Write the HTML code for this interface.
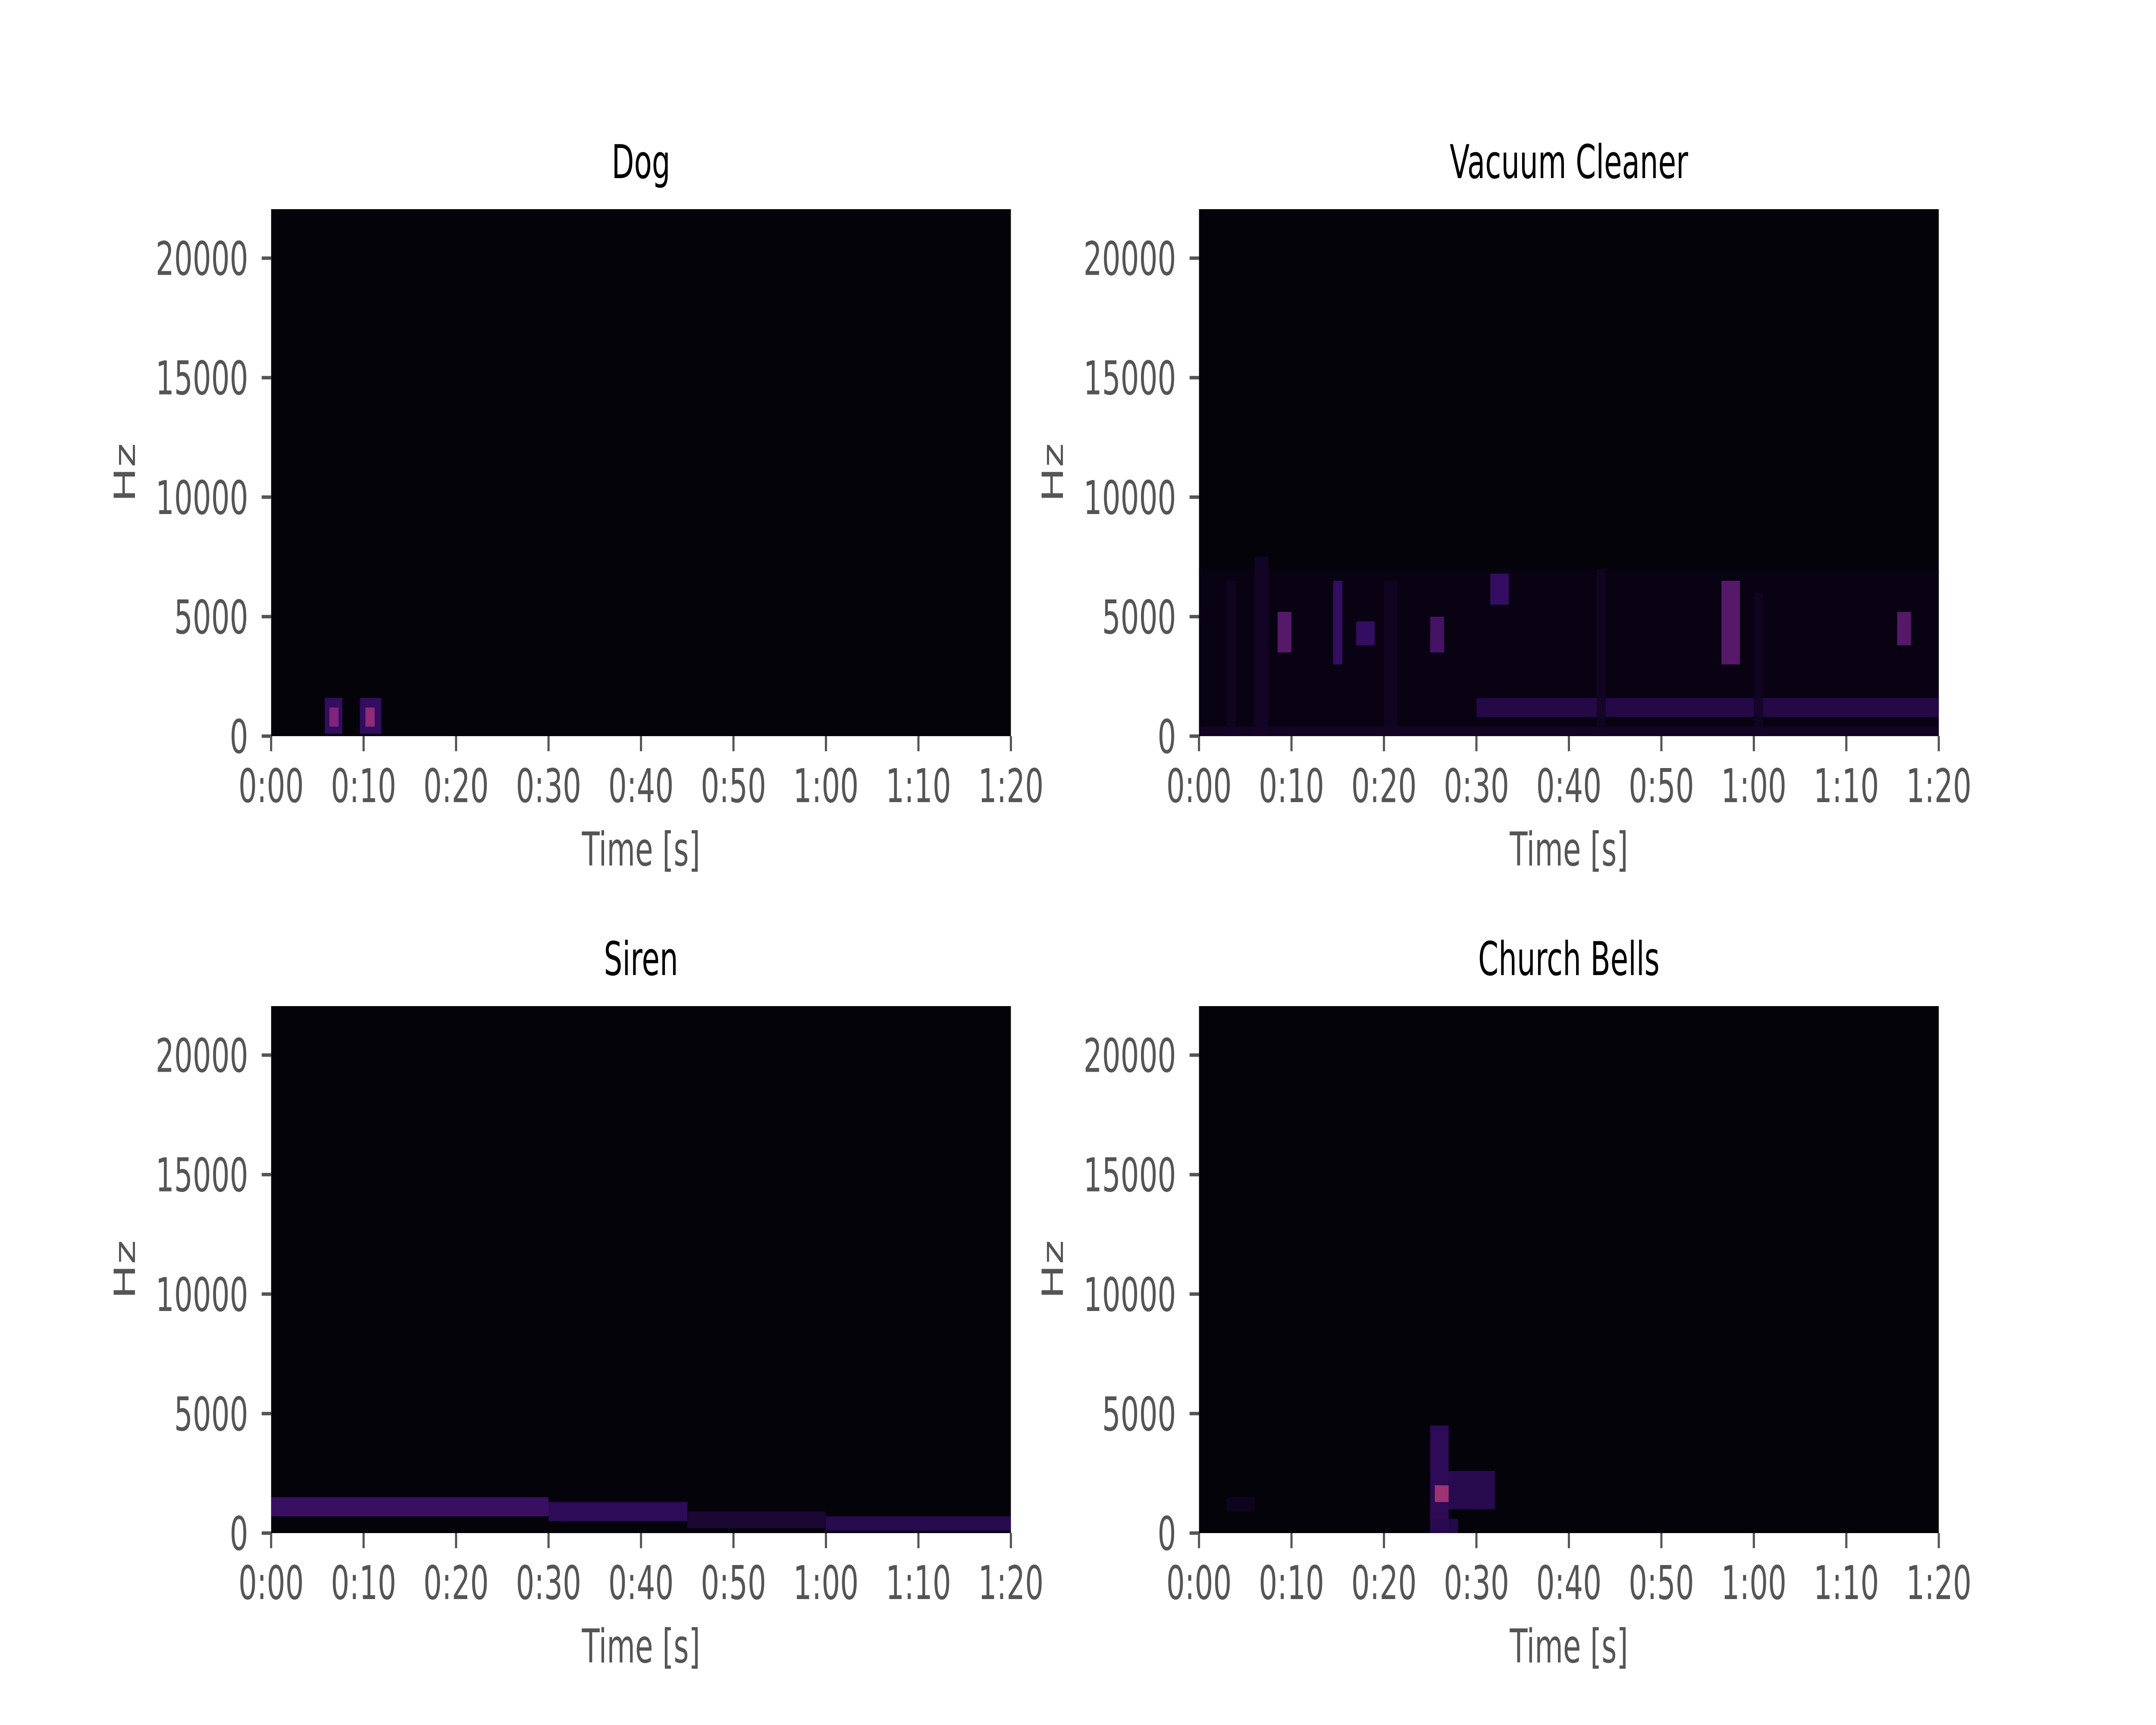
<!DOCTYPE html>
<html><head><meta charset="utf-8"><style>
html,body{margin:0;padding:0;background:#fff;width:100%;height:100%;overflow:hidden;}
svg{display:block;width:100vw;height:100vh;font-family:"DejaVu Sans","Liberation Sans",sans-serif;}
</style></head><body>
<svg id="fig" xmlns="http://www.w3.org/2000/svg" viewBox="0 0 8000 4000" preserveAspectRatio="none">
<rect width="8000" height="4000" fill="#ffffff"/>
</svg>
<script>
const panelTitles = ["Dog", "Vacuum Cleaner", "Siren", "Church Bells"];
const xTickValues = [0, 10, 20, 30, 40, 50, 60, 70, 80];
const xTickLabels = ["0:00","0:10","0:20","0:30","0:40","0:50","1:00","1:10","1:20"];
const yTickValues = [0, 5000, 10000, 15000, 20000];
const yTickLabels = ["0","5000","10000","15000","20000"];
const timeMax = 80;
const freqMax = 22050;

// blobs: start time, end time, low freq, high freq, intensity (0..1)
const dogT0 = [5.8, 6.3, 9.6, 10.2];
const dogT1 = [7.7, 7.3, 11.9, 11.2];
const dogF0 = [100, 400, 100, 400];
const dogF1 = [1600, 1200, 1600, 1200];
const dogLvl = [0.2, 0.4, 0.2, 0.45];

const vacT0 = [0, 0, 8.5, 14.5, 17, 25, 31.5, 56.5, 75.5, 30, 3, 6, 20, 43, 60];
const vacT1 = [80, 80, 10, 15.5, 19, 26.5, 33.5, 58.5, 77, 80, 4, 7.5, 21.5, 44, 61];
const vacF0 = [0, 0, 3500, 3000, 3800, 3500, 5500, 3000, 3800, 800, 0, 0, 0, 0, 0];
const vacF1 = [7000, 400, 5200, 6500, 4800, 5000, 6800, 6500, 5200, 1600, 6500, 7500, 6500, 7000, 6000];
const vacLvl = [0.03, 0.07, 0.3, 0.2, 0.2, 0.25, 0.2, 0.3, 0.3, 0.14, 0.06, 0.07, 0.06, 0.06, 0.06];

const sirT0 = [0, 30, 45, 60];
const sirT1 = [30, 45, 60, 80];
const sirF0 = [700, 500, 200, 100];
const sirF1 = [1500, 1300, 900, 700];
const sirLvl = [0.22, 0.18, 0.1, 0.16];

const chT0 = [25, 25.5, 27, 3, 25];
const chT1 = [27, 27, 32, 6, 28];
const chF0 = [100, 1300, 1000, 900, 0];
const chF1 = [4500, 2000, 2600, 1500, 600];
const chLvl = [0.18, 0.5, 0.16, 0.06, 0.14];

const blobT0 = [dogT0, vacT0, sirT0, chT0];
const blobT1 = [dogT1, vacT1, sirT1, chT1];
const blobF0 = [dogF0, vacF0, sirF0, chF0];
const blobF1 = [dogF1, vacF1, sirF1, chF1];
const blobLvl = [dogLvl, vacLvl, sirLvl, chLvl];

const NS = "http://www.w3.org/2000/svg";
const svg = document.getElementById("fig");
const lefts = [1006, 4449], tops = [485, 2333];
const W = 2745, H = 1222;
const magma = [[0,0,4],[59,15,112],[140,41,129],[222,73,104],[254,159,109],[252,253,191]];
function cmap(v){
  v = Math.max(0, Math.min(1, v)) * 5;
  const i = Math.min(4, Math.floor(v)), f = v - i;
  const a = magma[i], b = magma[i+1];
  return "rgb(" + a.map((c,k)=>Math.round(c + (b[k]-c)*f)).join(",") + ")";
}
function mk(tag, attrs, parent){
  const e = document.createElementNS(NS, tag);
  for (const k in attrs) e.setAttribute(k, attrs[k]);
  parent.appendChild(e);
  return e;
}
panelTitles.forEach((title, p) => {
  const x0 = lefts[p % 2], y0 = tops[Math.floor(p / 2)];
  const xs = t => x0 + t / timeMax * W;
  const ys = f => y0 + H - f / freqMax * H;
  const g = mk("g", {}, svg);
  
  
  const bg = mk("rect", {x: x0, y: y0, width: W, height: H, fill: "#04030a"}, g);
  
  
  const T0 = blobT0[p], T1 = blobT1[p], F0 = blobF0[p], F1 = blobF1[p], L = blobLvl[p];
  for (let i = 0; i < T0.length; i++) {
    const r = mk("rect", {x: xs(T0[i]), y: ys(F1[i]), width: xs(T1[i]) - xs(T0[i]), height: ys(F0[i]) - ys(F1[i]), fill: cmap(L[i]), opacity: 0.85}, g);
    
    
  }
  xTickValues.forEach((v, i) => {
    const tx = xs(v);
    const tl = mk("line", {x1: tx, x2: tx, y1: y0 + H, y2: y0 + H + 35, stroke: "#555555", "stroke-width": 8}, g);
    
    
    const t = mk("text", {x: tx, y: y0 + H + 153, "font-size": 108, fill: "#555555", "text-anchor": "middle"}, g);
    t.textContent = xTickLabels[i];
    
    
  });
  yTickValues.forEach((v, i) => {
    const ty = ys(v);
    const tl = mk("line", {x1: x0 - 35, x2: x0, y1: ty, y2: ty, stroke: "#555555", "stroke-width": 8}, g);
    
    
    const t = mk("text", {x: x0 - 85, y: ty + 39, "font-size": 108, fill: "#555555", "text-anchor": "end"}, g);
    t.textContent = yTickLabels[i];
    
    
  });
  const xl = mk("text", {x: x0 + W / 2, y: y0 + H + 300, "font-size": 108, fill: "#555555", "text-anchor": "middle"}, g);
  xl.textContent = "Time [s]";
  
  
  const yx = x0 - 505, yy = y0 + H / 2;
  const yl = mk("text", {x: yx, y: yy, "font-size": 108, fill: "#555555", "text-anchor": "middle", transform: "rotate(-90 " + yx + " " + yy + ")"}, g);
  yl.textContent = "Hz";
  
  
  const tt = mk("text", {x: x0 + W / 2, y: y0 - 72, "font-size": 108, fill: "#000000", "text-anchor": "middle"}, g);
  tt.textContent = title;
  
  
});
</script>
</body></html>
